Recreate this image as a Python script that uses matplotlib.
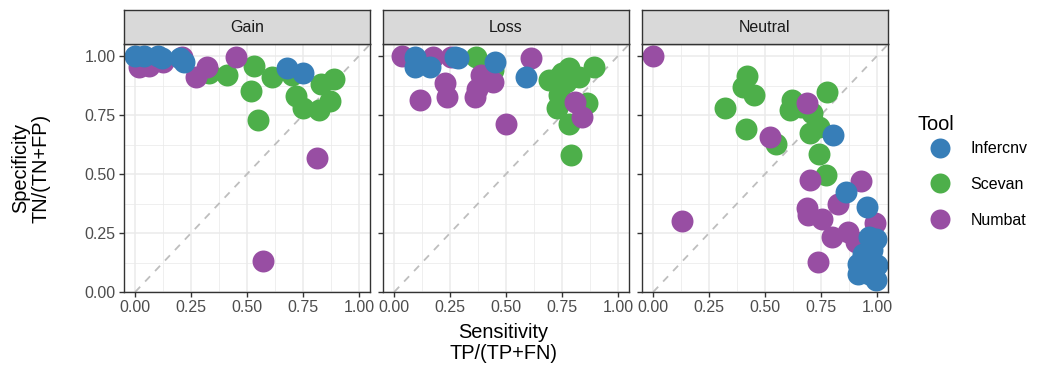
import matplotlib
matplotlib.use("Agg")
import matplotlib.pyplot as plt
from matplotlib.lines import Line2D

plt.rcParams['font.family'] = ['Liberation Sans', 'DejaVu Sans']

# data: sensitivity (x) / specificity (y) per tool and event type
panels = ["Gain", "Loss", "Neutral"]
tools = ["Infercnv", "Scevan", "Numbat"]
colors = {"Infercnv": "#377EB8", "Scevan": "#4DAF4A", "Numbat": "#984EA3"}

gain_infercnv_x = [0.0, 0.04, 0.10, 0.12, 0.20, 0.22, 0.68, 0.75]
gain_infercnv_y = [1.0, 1.0, 1.0, 0.99, 0.99, 0.975, 0.95, 0.93]
gain_scevan_x = [0.33, 0.41, 0.53, 0.52, 0.55, 0.61, 0.70, 0.72, 0.75, 0.82, 0.83, 0.89, 0.87]
gain_scevan_y = [0.93, 0.92, 0.96, 0.85, 0.73, 0.91, 0.92, 0.83, 0.78, 0.77, 0.88, 0.905, 0.81]
gain_numbat_x = [0.015, 0.06, 0.125, 0.21, 0.27, 0.32, 0.45, 0.815, 0.57]
gain_numbat_y = [0.955, 0.96, 0.976, 0.995, 0.91, 0.955, 0.995, 0.57, 0.13]

loss_infercnv_x = [0.093, 0.093, 0.16, 0.286, 0.27, 0.45, 0.59]
loss_infercnv_y = [0.997, 0.955, 0.955, 0.99, 0.997, 0.976, 0.912]
loss_scevan_x = [0.367, 0.44, 0.693, 0.738, 0.782, 0.827, 0.893, 0.738, 0.73, 0.782, 0.864, 0.79, 0.767, 0.75]
loss_scevan_y = [0.997, 0.943, 0.898, 0.912, 0.948, 0.912, 0.955, 0.834, 0.778, 0.714, 0.803, 0.58, 0.89, 0.93]
loss_numbat_x = [0.034, 0.175, 0.256, 0.39, 0.44, 0.36, 0.37, 0.227, 0.234, 0.116, 0.50, 0.61, 0.84, 0.81]
loss_numbat_y = [1.0, 0.997, 0.997, 0.92, 0.89, 0.827, 0.86, 0.884, 0.827, 0.816, 0.714, 0.994, 0.743, 0.806]

neutral_infercnv_x = [0.805, 0.864, 0.956, 0.997, 0.967, 0.916, 0.916, 0.953, 0.98, 1.0, 0.997, 0.967, 0.94]
neutral_infercnv_y = [0.665, 0.424, 0.36, 0.226, 0.233, 0.12, 0.078, 0.134, 0.177, 0.113, 0.05, 0.078, 0.163]
neutral_scevan_x = [0.418, 0.40, 0.45, 0.32, 0.414, 0.62, 0.61, 0.66, 0.775, 0.71, 0.74, 0.70, 0.55, 0.74, 0.772]
neutral_scevan_y = [0.915, 0.87, 0.835, 0.78, 0.693, 0.813, 0.77, 0.785, 0.846, 0.757, 0.70, 0.672, 0.627, 0.584, 0.498]
neutral_numbat_x = [0.0, 0.128, 0.687, 0.524, 0.70, 0.93, 0.827, 0.687, 0.694, 0.753, 0.994, 0.798, 0.87, 0.905, 0.739]
neutral_numbat_y = [1.0, 0.30, 0.80, 0.658, 0.474, 0.47, 0.375, 0.354, 0.325, 0.311, 0.293, 0.233, 0.255, 0.212, 0.127]

data = {
    "Gain": {"Infercnv": (gain_infercnv_x, gain_infercnv_y),
             "Scevan": (gain_scevan_x, gain_scevan_y),
             "Numbat": (gain_numbat_x, gain_numbat_y)},
    "Loss": {"Infercnv": (loss_infercnv_x, loss_infercnv_y),
             "Scevan": (loss_scevan_x, loss_scevan_y),
             "Numbat": (loss_numbat_x, loss_numbat_y)},
    "Neutral": {"Infercnv": (neutral_infercnv_x, neutral_infercnv_y),
                "Scevan": (neutral_scevan_x, neutral_scevan_y),
                "Numbat": (neutral_numbat_x, neutral_numbat_y)},
}
draw_order = ["Scevan", "Numbat", "Infercnv"]

W, H = 1039, 370
fig = plt.figure(figsize=(W / 100, H / 100), dpi=100)

# panel edges in pixels
lefts = [124, 383, 642]
pw = 246
top, bottom = 44.3, 292
strip_top = 10

ticks = [0, 0.25, 0.5, 0.75, 1.0]
ticklabels = ["0.00", "0.25", "0.50", "0.75", "1.00"]
minor = [0.125, 0.375, 0.625, 0.875]

for i, (name, left) in enumerate(zip(panels, lefts)):
    ax = fig.add_axes([left / W, 1 - bottom / H, pw / W, (bottom - top) / H])
    ax.set_xlim(-0.05, 1.05)
    ax.set_ylim(0, 1.05)
    for v in ticks:
        ax.axvline(v, color="#EBEBEB", lw=1.1, zorder=0)
        ax.axhline(v, color="#EBEBEB", lw=1.1, zorder=0)
    for v in minor:
        ax.axvline(v, color="#EBEBEB", lw=0.55, zorder=0)
        ax.axhline(v, color="#EBEBEB", lw=0.55, zorder=0)
    ax.axline((0, 0), slope=1, color="#BEBEBE", lw=1.3, ls=(0, (4, 4)), zorder=1)
    for z, tool in enumerate(draw_order):
        x, y = data[name][tool]
        ax.scatter(x, y, s=250, color=colors[tool], linewidths=0, zorder=2 + z)
    ax.set_xticks(ticks)
    ax.set_xticklabels(ticklabels)
    ax.set_yticks(ticks)
    if i == 0:
        ax.set_yticklabels(ticklabels)
    else:
        ax.set_yticklabels([])
        ax.tick_params(axis="y", length=0)
    ax.tick_params(labelsize=11.5, labelcolor="#4D4D4D", color="#333333",
                   length=3.6, width=1.0, pad=2.5)
    for sp in ax.spines.values():
        sp.set_color("#333333")
        sp.set_linewidth(1.0)
        sp.set_zorder(10)

    sax = fig.add_axes([left / W, 1 - top / H, pw / W, (top - strip_top) / H])
    sax.set_facecolor("#D9D9D9")
    sax.set_xticks([])
    sax.set_yticks([])
    for sp in sax.spines.values():
        sp.set_color("#333333")
        sp.set_linewidth(1.0)
    sax.text(0.5, 0.5, name, ha="center", va="center", fontsize=11.5,
             color="#1A1A1A", transform=sax.transAxes)

fig.text(503 / W, 1 - 343 / H, "Sensitivity\nTP/(TP+FN)", ha="center",
         va="center", fontsize=14.4, linespacing=1.08)
fig.text(31 / W, 1 - 168 / H, "Specificity\nTN/(TN+FP)", ha="center",
         va="center", fontsize=14.4, rotation=90, linespacing=1.08)

handles = [Line2D([], [], ls="", marker="o", markersize=14.4,
                  markerfacecolor=colors[t], markeredgewidth=0) for t in tools]
fig.legend(handles, tools, loc="center left",
           bbox_to_anchor=(930 / W, 1 - 184.5 / H), frameon=False,
           fontsize=11.5, borderpad=0, borderaxespad=0, handlelength=1.25,
           handletextpad=1.3, labelspacing=1.3)
fig.text(918 / W, 1 - 125 / H, "Tool", ha="left", va="center", fontsize=14.4)

fig.savefig("out.png", dpi=100)
